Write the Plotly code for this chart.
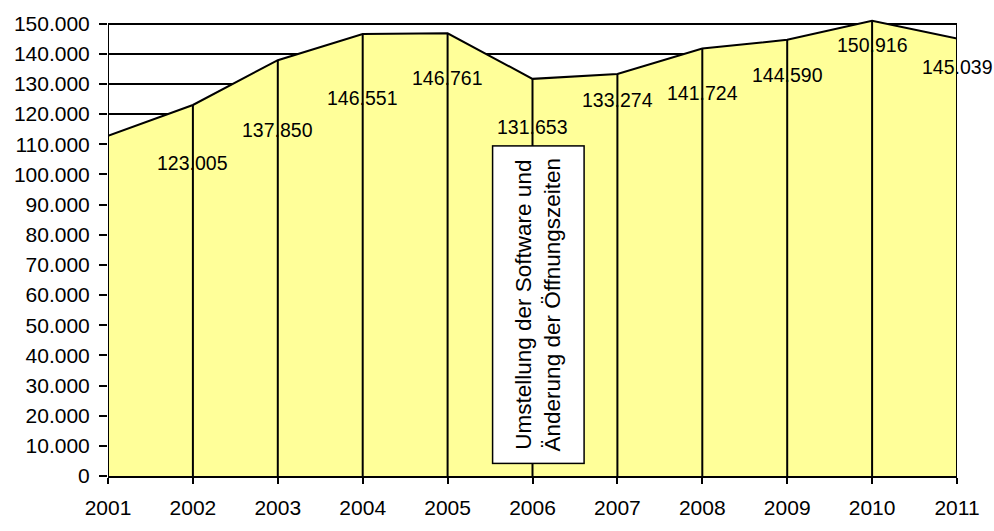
import plotly.graph_objects as go

years = [2001, 2002, 2003, 2004, 2005, 2006, 2007, 2008, 2009, 2010, 2011]
values = [112800, 123005, 137850, 146551, 146761, 131653, 133274, 141724, 144590, 150916, 145039]
labelled = [False, True, True, True, True, True, True, True, True, True, True]
label_drop_px = [0, 58, 70, 64, 45, 48, 26, 45, 35, 24, 29]
note_text = "Umstellung der Software und<br>Änderung der Öffnungszeiten"
y_ticks = list(range(0, 150001, 10000))

FONT = "Liberation Sans, Arial, sans-serif"

def fmt(v):
    return f"{v:,}".replace(",", ".")

fig = go.Figure()
fig.add_trace(go.Scatter(
    x=years, y=values, mode="lines", fill="tozeroy",
    fillcolor="#FFFF99", line=dict(color="black", width=2),
    hoverinfo="skip", showlegend=False))

# drop lines from each point to zero
dx, dy = [], []
for x, v in zip(years, values):
    dx += [x, x, None]
    dy += [0, v, None]
fig.add_trace(go.Scatter(x=dx, y=dy, mode="lines",
                         line=dict(color="black", width=2),
                         hoverinfo="skip", showlegend=False))

ann = []
for x, v, lab, d in zip(years, values, labelled, label_drop_px):
    if lab:
        ann.append(dict(x=x, y=v, text=fmt(v), showarrow=False, yshift=-d,
                        font=dict(family=FONT, size=19.5, color="black")))

ann.append(dict(x=years[5], y=56800, text=note_text, showarrow=False, textangle=-90,
                xshift=6, width=314, height=88,
                font=dict(family=FONT, size=22.5, color="black"),
                bgcolor="white", bordercolor="black", borderwidth=1.5, borderpad=1))

shapes = [
    dict(type="line", xref="x", yref="y", x0=years[0], x1=years[0], y0=0, y1=y_ticks[-1],
         line=dict(color="black", width=2)),
    dict(type="line", xref="x", yref="y", x0=years[-1], x1=years[-1], y0=0, y1=y_ticks[-1],
         line=dict(color="black", width=2)),
]

fig.update_layout(
    width=994, height=531,
    margin=dict(l=108, r=37, t=19, b=42),
    paper_bgcolor="white", plot_bgcolor="white",
    separators=",.",
    font=dict(family=FONT, color="black"),
    annotations=ann, shapes=shapes,
    xaxis=dict(range=[years[0], years[-1]], tickvals=years, ticktext=[str(y) for y in years],
               ticks="outside", ticklen=6, tickwidth=1.5, tickcolor="black",
               ticklabelstandoff=6,
               showline=True, linecolor="black", linewidth=2, showgrid=False, zeroline=False,
               tickfont=dict(family=FONT, size=21, color="black")),
    yaxis=dict(range=[0, 151500], tickvals=y_ticks, ticktext=[fmt(t) for t in y_ticks],
               ticks="outside", ticklen=8, tickwidth=1.5, tickcolor="black",
               ticklabelstandoff=5,
               showline=False, showgrid=True, gridcolor="black", gridwidth=1.5, zeroline=False,
               tickfont=dict(family=FONT, size=21, color="black")),
)

post = ("var d=document.getElementById('{plot_id}');"
        "d.style.position='fixed';d.style.top='0px';d.style.left='0px';"
        "document.body.style.margin='0';document.body.style.overflow='hidden';"
        "document.documentElement.style.overflow='hidden';")

fig.write_html("out.html", config={"displayModeBar": False}, post_script=post)
